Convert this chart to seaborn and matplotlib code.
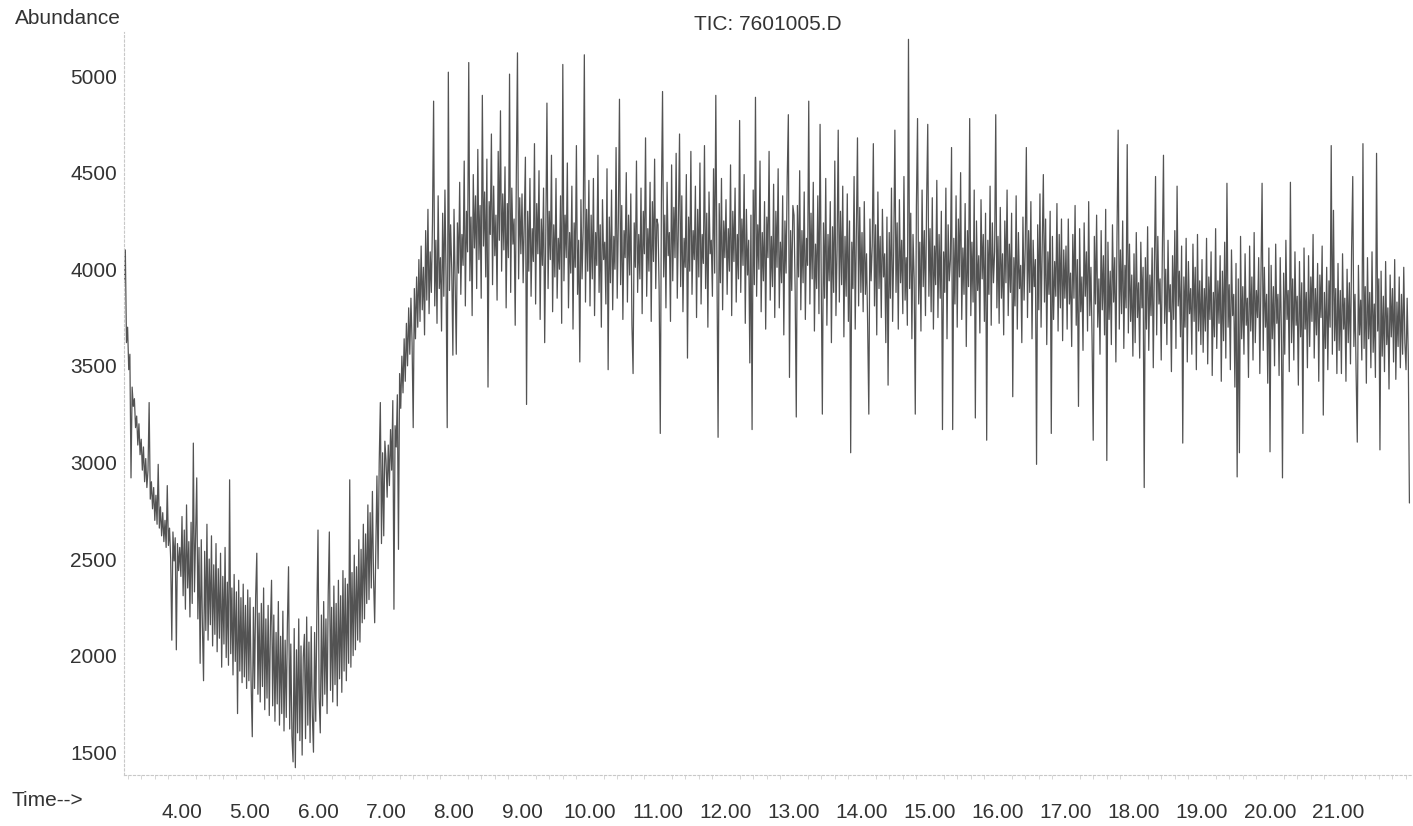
import numpy as np
import pandas as pd
import matplotlib
matplotlib.use('Agg')
import matplotlib.pyplot as plt
import seaborn as sns
from matplotlib.ticker import MultipleLocator, FormatStrFormatter

# TIC trace: one list per minute of run time,
# one scan per second (1/60 min)
scan_step = 1 / 60
abund_03 = [3930, 4100, 3620, 3700, 3480, 3560, 2920, 3390, 3290, 3330, 3180, 3240, 3090, 3200, 3040, 3120, 2960,
            3080, 2900, 3020, 2870, 2960, 3310, 2810, 2900, 2760, 2870, 2700, 2830, 2680, 2990, 2660, 2770, 2620,
            2740, 2590, 2700, 2560, 2880, 2570, 2660, 2500, 2080, 2640, 2490, 2610, 2030, 2580, 2440, 2560, 2410]
abund_04 = [2720, 2310, 2650, 2240, 2780, 2350, 2590, 2200, 2690, 2270, 3100, 2330, 2620, 2920, 2190, 2560, 1960, 2600, 2150, 1870,
            2540, 2130, 2680, 2080, 2500, 2160, 2620, 2050, 2470, 2110, 2580, 2020, 2450, 2090, 2530, 1940, 2410, 2060, 2560, 1990,
            2380, 1950, 2910, 2010, 2350, 1900, 2420, 1970, 2330, 1700, 2390, 1920, 2300, 1860, 2370, 1890, 2260, 1830, 2340, 1870]
abund_05 = [2300, 1850, 1580, 2250, 1830, 2310, 2530, 1800, 2220, 1760, 2270, 1840, 2350, 1720, 2190, 1780, 2260, 1690, 2150, 2390,
            1740, 2210, 1660, 2120, 1750, 2280, 1640, 2100, 1700, 2230, 1610, 2080, 1680, 2170, 2460, 1620, 2060, 1580, 1450, 2140,
            1420, 2030, 1600, 2190, 1560, 2050, 1485, 1990, 2110, 1570, 2200, 1640, 2070, 1550, 2150, 1690, 1500, 2120, 1660, 2230]
abund_06 = [2650, 1780, 1600, 2210, 1740, 2280, 1800, 2190, 1700, 2320, 2640, 1820, 2250, 1760, 2360, 1850, 2270, 1740, 2390, 1880,
            2310, 1810, 2440, 1920, 2400, 1870, 2370, 1960, 2910, 1940, 2430, 2000, 2520, 2030, 2460, 2080, 2600, 2070, 2550, 2170,
            2680, 2190, 2630, 2270, 2780, 2290, 2740, 2350, 2850, 2400, 2170, 2560, 2930, 2450, 3000, 3310, 2580, 3050, 2620, 3110]
abund_07 = [3010, 2820, 3090, 2880, 3170, 2960, 3320, 2240, 3190, 3080, 3350, 2550, 3460, 3280, 3550, 3360, 3640, 3420, 3720, 3500,
            3800, 3560, 3850, 3620, 3180, 3900, 3640, 3960, 3700, 4050, 3730, 4120, 3790, 4010, 3660, 4200, 3840, 4310, 3770, 4090,
            3880, 4240, 4870, 3810, 4150, 3720, 4380, 3900, 4060, 3680, 4290, 3860, 4410, 3950, 3180, 5020, 3890, 4230, 4000, 3555]
abund_08 = [4310, 3920, 3560, 4240, 3980, 4450, 3870, 4180, 4020, 4560, 3810, 4300, 4090, 5070, 3940, 4270, 3760, 4490, 4110, 4380,
            3900, 4620, 4050, 4330, 3850, 4900, 4120, 4400, 3960, 4570, 3390, 4350, 4180, 4700, 3920, 4430, 4070, 4280, 3840, 4610,
            4150, 4820, 3990, 4390, 4100, 4530, 3800, 4340, 4060, 5010, 3880, 4420, 4130, 4260, 3710, 4500, 5120, 3950, 4370, 4080]
abund_09 = [4390, 3930, 4250, 4580, 3300, 4300, 3990, 4470, 3860, 4210, 4040, 4650, 3820, 4340, 4080, 4510, 3740, 4260, 4020, 4420,
            3620, 4180, 4860, 3900, 4300, 4050, 4590, 3780, 4230, 3960, 4470, 3850, 4160, 4000, 4380, 3720, 5060, 3940, 4280, 4060,
            4550, 3800, 4190, 3980, 4430, 3690, 4240, 4010, 4640, 3870, 4150, 3520, 4360, 3950, 4220, 5110, 3830, 4310, 3990, 4460]
abund_10 = [3810, 4280, 3950, 4470, 3760, 4190, 4020, 4590, 3880, 4230, 3700, 4360, 4050, 4140, 3820, 4520, 3480, 4270, 3930, 4410,
            3790, 4170, 4000, 4630, 3850, 4250, 4880, 3920, 4330, 3740, 4200, 4060, 4500, 3830, 4280, 3970, 4390, 3710, 3460, 4240,
            4010, 4560, 3880, 4180, 3950, 4420, 3770, 4300, 4080, 4680, 3860, 4210, 3990, 4450, 3730, 4350, 4040, 4570, 3900, 4260]
abund_11 = [4230, 3890, 3150, 4370, 4920, 3960, 4280, 3800, 4450, 4070, 4190, 3730, 4540, 3940, 4320, 4060, 4600, 3850, 4240, 4700,
            3910, 4380, 3780, 4160, 4010, 4490, 3540, 4270, 3990, 4610, 3870, 4200, 4050, 4430, 3750, 4310, 3960, 4550, 3820, 4180,
            4030, 4640, 3900, 4290, 3700, 4400, 4080, 4150, 3860, 4520, 3980, 4900, 4020, 3130, 4340, 3930, 4470, 3790, 4250, 4060]
abund_12 = [4360, 3870, 4210, 3990, 4540, 3760, 4300, 4040, 4420, 3830, 4180, 3950, 4770, 3880, 4260, 4020, 4490, 3720, 4310, 3970,
            4150, 3515, 4280, 3170, 4410, 3920, 4890, 3860, 4230, 4000, 4560, 3780, 4190, 3940, 4350, 3690, 4270, 4060, 4610, 3840,
            4170, 3910, 4440, 3750, 4300, 4010, 4520, 3800, 4140, 3930, 4380, 3660, 4250, 3980, 4470, 4800, 3440, 4200, 3890, 4330]
abund_13 = [4280, 3890, 3235, 4330, 3960, 4510, 3790, 4200, 3930, 4400, 3740, 4160, 4020, 4870, 3820, 4290, 3950, 4450, 3680, 4130,
            3900, 4380, 3770, 4750, 3960, 3250, 4240, 3850, 4470, 3710, 4180, 3940, 4350, 3620, 4220, 3880, 4560, 3760, 4100, 4720,
            3830, 4300, 3920, 4430, 3650, 4170, 3860, 4390, 3730, 4250, 3050, 4140, 3900, 4480, 3690, 4210, 4680, 3810, 4320, 3880]
abund_14 = [4190, 3780, 4350, 3870, 4080, 3700, 3250, 4260, 3940, 4120, 4650, 3810, 4230, 3660, 4400, 3900, 4170, 3750, 4310, 3960,
            4080, 3620, 4270, 3400, 4190, 3850, 4420, 3730, 4110, 4720, 3880, 4240, 3690, 4360, 3930, 4150, 3770, 4480, 3840, 4060,
            3710, 5190, 3900, 4290, 3640, 4180, 3950, 3250, 4330, 4780, 3820, 4140, 3680, 4410, 3910, 4200, 3760, 4350, 4750, 3860]
abund_15 = [4210, 3780, 4370, 3690, 4120, 3920, 4460, 3750, 4180, 3850, 4300, 3170, 4090, 3880, 4420, 3640, 4230, 3940, 4050, 4630,
            3170, 4160, 3820, 4380, 3700, 4260, 3960, 4500, 3740, 4110, 3870, 4340, 3600, 4200, 3910, 4780, 3760, 4140, 3830, 4410,
            3230, 4250, 3890, 4070, 3670, 4360, 3950, 4180, 3730, 4290, 3115, 4150, 3870, 4430, 3710, 4240, 3930, 4090, 4800, 3800]
abund_16 = [4170, 3720, 4320, 3850, 4080, 3660, 4250, 3930, 4410, 3760, 4130, 3880, 4290, 3340, 4060, 3810, 4380, 3690, 4190, 3900,
            4020, 3620, 4270, 3840, 4110, 4630, 3750, 4200, 3880, 4350, 3640, 4150, 3910, 4050, 2990, 4230, 3790, 4390, 3700, 4120,
            4490, 3830, 4260, 3610, 4090, 3870, 4300, 3150, 4170, 3740, 4040, 3860, 4340, 3680, 4180, 3800, 4260, 3630, 4100, 3850]
abund_17 = [4120, 3690, 4260, 3820, 3980, 3600, 4180, 3850, 4330, 3710, 4050, 3290, 4210, 3780, 3960, 3580, 4240, 3860, 4090, 3680,
            4350, 3760, 4010, 3630, 3115, 4170, 3820, 4280, 3700, 3950, 3560, 4200, 3790, 4070, 3660, 4310, 3010, 4140, 3740, 3990,
            3610, 4230, 3830, 4060, 3520, 4180, 4720, 3690, 4100, 3770, 4250, 3590, 4020, 3800, 4645, 3670, 4130, 3730, 3970, 3550]
abund_18 = [4080, 3620, 4190, 3750, 3930, 3540, 4140, 3800, 4010, 2870, 4060, 3690, 4220, 3580, 3970, 3760, 4110, 3490, 4030, 4480,
            3660, 4170, 3820, 3950, 3530, 4090, 4590, 3720, 4000, 3610, 4150, 3780, 3920, 3470, 4070, 3740, 4200, 3590, 4430, 3810,
            3990, 3650, 4120, 3100, 3960, 3700, 4160, 3520, 4040, 3770, 3900, 3560, 4130, 3730, 4010, 3480, 4180, 3680, 3940, 3610]
abund_19 = [4050, 3570, 3900, 3680, 4160, 3510, 3960, 3740, 4090, 3450, 3880, 3650, 4210, 3590, 3940, 3720, 4070, 3420, 3990, 3630,
            4140, 3540, 4445, 3700, 3920, 3480, 4100, 3760, 3870, 3390, 4030, 2925, 3950, 3050, 4170, 3640, 3910, 3560, 4080, 3710,
            3850, 3440, 4120, 3680, 3960, 3530, 4190, 3620, 3890, 3750, 4060, 3460, 3930, 4445, 3580, 4010, 3700, 3870, 3410, 4110]
abund_20 = [3055, 4020, 3640, 3910, 3500, 4130, 3720, 3870, 3450, 4060, 3690, 2920, 3980, 3560, 4150, 3740, 3890, 3470, 4450, 3620,
            3950, 3530, 4090, 3710, 3860, 3400, 4040, 3650, 3930, 3150, 4110, 3690, 3880, 3490, 4070, 3600, 3960, 3730, 4180, 3540,
            3900, 3660, 4030, 3420, 3970, 3750, 4120, 3245, 3880, 3590, 4010, 3480, 3940, 3700, 4640, 3560, 4305, 3630, 3900, 3460]
abund_21 = [4030, 3580, 3890, 3460, 4080, 3690, 3850, 3420, 4000, 3620, 3930, 3510, 4110, 4480, 3600, 3870, 3450, 3105, 4020, 3660,
            3840, 3530, 4650, 3590, 3910, 3410, 4060, 3640, 3880, 3490, 4090, 3570, 3820, 3440, 4600, 3680, 3950, 3065, 3990, 3550,
            3860, 3470, 4040, 3610, 3800, 3380, 3970, 3650, 3900, 3520, 4050, 3430, 3830, 3600, 3960, 3490, 3870, 3560, 4010, 3620]
abund_22 = [3480, 3850, 3550, 2790]

segment_starts = [3.15, 4.0, 5.0, 6.0, 7.0, 8.0, 9.0, 10.0, 11.0, 12.0,
                  13.0, 14.0, 15.0, 16.0, 17.0, 18.0, 19.0, 20.0, 21.0, 22.0]
segments = [abund_03, abund_04, abund_05, abund_06, abund_07, abund_08, abund_09, abund_10, abund_11, abund_12,
            abund_13, abund_14, abund_15, abund_16, abund_17, abund_18, abund_19, abund_20, abund_21, abund_22]

y_ticks = [1500, 2000, 2500, 3000, 3500, 4000, 4500, 5000]
x_ticks = list(range(4, 22))

times, values = [], []
for start, seg in zip(segment_starts, segments):
    times.extend(start + scan_step * np.arange(len(seg)))
    values.extend(seg)
df = pd.DataFrame({"time": times, "abundance": values})

sns.set_style("white")
plt.rcParams['font.family'] = ['Liberation Sans', 'DejaVu Sans']

W, H = 1413, 826
fig = plt.figure(figsize=(W / 100, H / 100), dpi=100)
ax = fig.add_axes([124 / W, 1 - 775 / H, (1412 - 124) / W, (775 - 32) / H])

sns.lineplot(data=df, x="time", y="abundance", ax=ax, estimator=None, sort=False,
             color="#111111", linewidth=0.9, alpha=0.72)

ax.set_xlim(3.147, 22.088)
ax.set_ylim(1382, 5228)
ax.set_xticks(x_ticks)
ax.xaxis.set_major_formatter(FormatStrFormatter('%.2f'))
ax.xaxis.set_minor_locator(MultipleLocator(0.2))
ax.set_yticks(y_ticks)
ax.set_xlabel("")
ax.set_ylabel("")

for side in ["top", "right"]:
    ax.spines[side].set_visible(False)
for side in ["left", "bottom"]:
    ax.spines[side].set_color("#c8c8c8")
    ax.spines[side].set_linestyle((0, (2, 2)))
    ax.spines[side].set_linewidth(0.8)

ax.tick_params(axis="y", length=0, pad=5, labelsize=15, labelcolor="#333333")
ax.tick_params(axis="x", which="major", length=6, width=0.8, color="#c8c8c8",
               pad=14, labelsize=15, labelcolor="#333333")
ax.tick_params(axis="x", which="minor", length=3, width=0.6, color="#d0d0d0", bottom=True)

fig.text(15 / W, 1 - 18 / H, "Abundance", ha="left", va="center", fontsize=15, color="#333333")
fig.text(768 / W, 1 - 25 / H, "TIC: 7601005.D", ha="center", va="center", fontsize=15, color="#333333")
fig.text(12 / W, 1 - 801 / H, "Time-->", ha="left", va="center", fontsize=15, color="#333333")

fig.savefig("out.png", dpi=100)
plt.close(fig)
